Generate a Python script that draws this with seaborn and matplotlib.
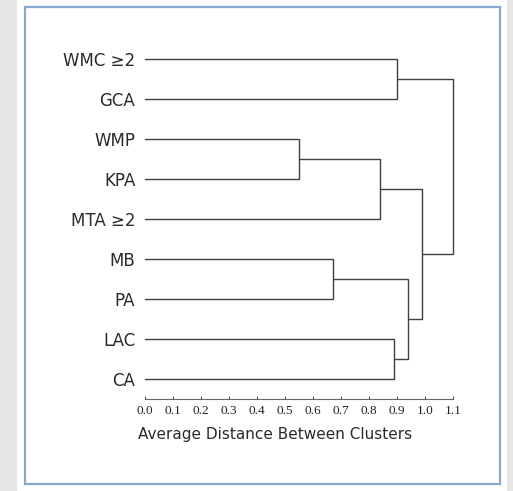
import pandas as pd
import matplotlib.pyplot as plt
import seaborn as sns
from matplotlib.patches import Rectangle

# leaves, top to bottom
labels = ['WMC ≥2', 'GCA', 'WMP', 'KPA', 'MTA ≥2', 'MB', 'PA', 'LAC', 'CA']

# linkage: new cluster ids start at len(labels)
merge_left = [2, 5, 9, 7, 0, 10, 11, 13]
merge_right = [3, 6, 4, 8, 1, 12, 14, 15]
merge_height = [0.55, 0.67, 0.84, 0.89, 0.90, 0.94, 0.99, 1.10]

ticks = [0.0, 0.1, 0.2, 0.3, 0.4, 0.5, 0.6, 0.7, 0.8, 0.9, 1.0, 1.1]


def build_segments():
    pos = {i: (0.0, float(i)) for i in range(len(labels))}
    rows = []
    for k, (a, b, h) in enumerate(zip(merge_left, merge_right, merge_height)):
        xa, ya = pos[a]
        xb, yb = pos[b]
        for x, y in [(xa, ya), (h, ya), (h, yb), (xb, yb)]:
            rows.append({'seg': k, 'x': x, 'y': y})
        pos[len(labels) + k] = (h, (ya + yb) / 2)
    return pd.DataFrame(rows)


sns.set_theme(style='white')
plt.rcParams['font.family'] = ['DejaVu Sans']

W, H = 513, 491
fig = plt.figure(figsize=(W / 100, H / 100), dpi=100, facecolor='#e6e6e6')
fig.patches.append(Rectangle((17 / W, 0), 490 / W, 1, transform=fig.transFigure,
                             facecolor='white', edgecolor='none', zorder=-10))
fig.patches.append(Rectangle((24.5 / W, 1 - 484 / H), 475 / W, 477 / H, transform=fig.transFigure,
                             facecolor='none', edgecolor='#86a9cf', lw=1.6, zorder=-9))

ax = fig.add_axes([145 / W, 1 - 399 / H, 308 / W, 360 / H])
ax.set_facecolor('none')

df = build_segments()
sns.lineplot(data=df, x='x', y='y', units='seg', estimator=None, sort=False,
             color='#404040', lw=1.0, ax=ax)
for line in ax.lines:
    line.set_clip_on(False)

ax.set_xlim(0, 1.1)
ax.set_ylim(8.5, -0.5)
ax.set_yticks(range(len(labels)))
ax.set_yticklabels(labels, fontsize=12, color='#2a2a2a')
ax.tick_params(axis='y', length=0, pad=7)

ax.set_xticks(ticks)
ax.set_xticklabels([f'{t:.1f}' for t in ticks], family='Liberation Serif', fontsize=9.5, color='#222222')
ax.tick_params(axis='x', direction='in', length=2, width=0.8, color='#555555', pad=4, bottom=True)

for s in ['top', 'right', 'left']:
    ax.spines[s].set_visible(False)
ax.spines['bottom'].set_color('#666666')
ax.spines['bottom'].set_linewidth(0.8)

ax.set_ylabel('')
ax.set_xlabel('Average Distance Between Clusters', fontsize=11, color='#2a2a2a')
ax.xaxis.set_label_coords((275.5 - 145) / 308, -(435 - 399) / 360)
ax.xaxis.label.set_va('center')

fig.savefig('out.png', dpi=100, facecolor=fig.get_facecolor())
